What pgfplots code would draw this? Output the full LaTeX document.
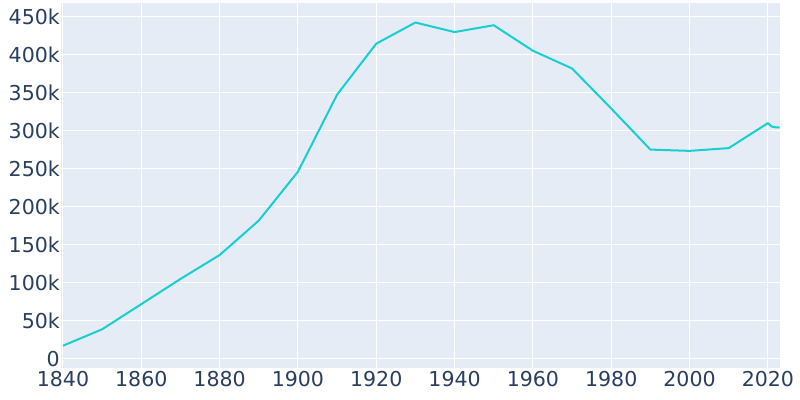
\documentclass[border=0pt]{standalone}
\usepackage{pgfplots}
\pgfplotsset{compat=1.18}
\usepackage{fontspec}
\setmainfont{DejaVu Sans}
\definecolor{bg}{HTML}{E5ECF6}
\definecolor{txt}{HTML}{2A3F5F}
\definecolor{ln}{HTML}{17CFD0}
\begin{document}
\begin{tikzpicture}
\path[use as bounding box, fill=white] (0,0) rectangle (800bp,400bp);
\begin{axis}[at={(61bp,32bp)}, anchor=south west, scale only axis,
  width=719bp, height=365bp,
  xmin=1839.5, xmax=2023.1, ymin=-12000, ymax=468000,
  axis background/.style={fill=bg},
  axis line style={draw=none}, tick style={draw=none},
  grid=major, grid style={white, line width=1bp},
  xtick={1840,1860,...,2020},
  xticklabels={1840,1860,1880,1900,1920,1940,1960,1980,2000,2020},
  ytick={0,50000,...,450000},
  yticklabels={0,50k,100k,150k,200k,250k,300k,350k,400k,450k},
  scaled y ticks=false,
  ticklabel style={font=\fontsize{20.6}{24}\selectfont, text=txt},
  yticklabel style={inner sep=1bp},
  xticklabel style={inner sep=1bp, yshift=-2bp},
  clip=false,
]
\addplot[ln, line width=2bp, line join=round] coordinates {
(1840,17290) (1850,38894) (1860,71941) (1870,105059) (1880,136508)
(1890,181830) (1900,246070) (1910,347469) (1920,414524) (1930,442337)
(1940,429760) (1950,438776) (1960,405220) (1970,381930) (1980,329248)
(1990,275221) (2000,273546) (2010,277140) (2020,310000) (2021,305500)
(2022,304500) (2023,304500)
};
\end{axis}
\end{tikzpicture}
\end{document}
